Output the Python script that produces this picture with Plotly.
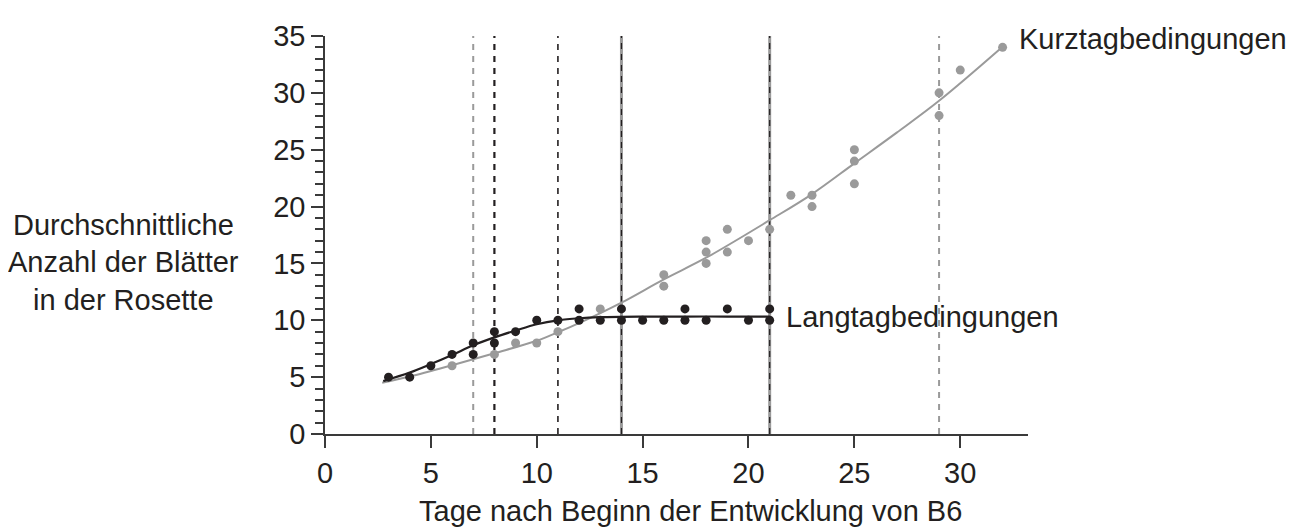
import plotly.graph_objects as go

# --- data ---
# Kurztagbedingungen (short-day conditions), grey
kurz_days = [6, 8, 9, 10, 11, 13, 16, 16, 18, 18, 18, 19, 19, 20, 21, 22, 23, 23, 25, 25, 25, 29, 29, 30, 32]
kurz_leaves = [6, 7, 8, 8, 9, 11, 14, 13, 17, 16, 15, 18, 16, 17, 18, 21, 21, 20, 25, 24, 22, 30, 28, 32, 34]

# Langtagbedingungen (long-day conditions), black
lang_days = [3, 4, 5, 6, 7, 7, 8, 8, 9, 10, 11, 12, 12, 13, 14, 14, 15, 16, 17, 17, 18, 19, 20, 21, 21]
lang_leaves = [5, 5, 6, 7, 8, 7, 9, 8, 9, 10, 10, 11, 10, 10, 11, 10, 10, 10, 11, 10, 10, 11, 10, 11, 10]

# fitted trend curves
kurz_fit_days = [2.7, 4, 6, 8, 10, 11, 12, 14, 16, 18, 21, 23, 25, 27, 29, 32]
kurz_fit_leaves = [4.5, 5.05, 6.05, 7.1, 8.2, 8.95, 9.75, 11.55, 13.6, 15.5, 18.8, 21.1, 23.8, 26.5, 29.3, 34.05]

lang_fit_days = [2.75, 4, 5, 6, 7, 8, 9, 10, 11, 12, 13, 15, 17, 19, 21]
lang_fit_leaves = [4.65, 5.4, 6.15, 6.95, 7.8, 8.5, 9.1, 9.65, 10.0, 10.18, 10.27, 10.32, 10.33, 10.33, 10.33]

# vertical reference lines (days)
grey_dashed_days = [7, 29]
black_dashed_days = [8, 11]
combined_days = [14, 21]

x_ticks = [0, 5, 10, 15, 20, 25, 30]
y_ticks = [0, 5, 10, 15, 20, 25, 30, 35]

label_kurz = "Kurztagbedingungen"
label_lang = "Langtagbedingungen"
x_title = "Tage nach Beginn der Entwicklung von B6"
y_title_lines = ["Durchschnittliche", "Anzahl der Blätter", "in der Rosette"]

GREY = "#9a9a9a"
BLACK = "#231f20"
AXIS = "#3a3a3a"
FONT = "Liberation Sans, Arial, sans-serif"
FS = 29

Y_TOP = 35
# page has an 8px body margin; plot area spans screen x 325..1028, y 28..434
PLOT_L, PLOT_T, PLOT_W, PLOT_H = 325, 28, 703, 406


def px_to_paper_x(sx):
    return (sx - PLOT_L) / PLOT_W


def px_to_paper_y(sy):
    return 1 - (sy - PLOT_T) / PLOT_H


fig = go.Figure()

# vertical lines
for d in grey_dashed_days:
    fig.add_trace(go.Scatter(x=[d, d], y=[0, Y_TOP], mode="lines",
                             line=dict(color=GREY, width=2, dash="6px,6px"),
                             hoverinfo="skip"))
for i, d in enumerate(black_dashed_days):
    fig.add_trace(go.Scatter(x=[d, d], y=[0, Y_TOP], mode="lines",
                             line=dict(color=BLACK, width=2.2 if i == 0 else 1.6, dash="6px,6px"),
                             hoverinfo="skip"))
for d in combined_days:
    fig.add_trace(go.Scatter(x=[d, d], y=[0, Y_TOP], mode="lines",
                             line=dict(color=GREY, width=3),
                             hoverinfo="skip"))
    fig.add_trace(go.Scatter(x=[d, d], y=[0, Y_TOP], mode="lines",
                             line=dict(color=BLACK, width=1.2, dash="6px,5px"),
                             hoverinfo="skip"))

# trend curves
fig.add_trace(go.Scatter(x=kurz_fit_days, y=kurz_fit_leaves, mode="lines",
                         line=dict(color=GREY, width=2, shape="spline", smoothing=1),
                         hoverinfo="skip"))
fig.add_trace(go.Scatter(x=lang_fit_days, y=lang_fit_leaves, mode="lines",
                         line=dict(color=BLACK, width=2.2, shape="spline", smoothing=1),
                         hoverinfo="skip"))

# points
fig.add_trace(go.Scatter(x=kurz_days, y=kurz_leaves, mode="markers",
                         marker=dict(color=GREY, size=9, line=dict(width=0)),
                         name=label_kurz))
fig.add_trace(go.Scatter(x=lang_days, y=lang_leaves, mode="markers",
                         marker=dict(color=BLACK, size=9, line=dict(width=0)),
                         name=label_lang))

annotations = [
    dict(x=kurz_days[-1], y=kurz_leaves[-1], xref="x", yref="y", text=label_kurz,
         showarrow=False, xanchor="left", yanchor="middle", xshift=14, yshift=8,
         font=dict(family=FONT, size=FS, color=BLACK)),
    dict(x=lang_fit_days[-1], y=lang_fit_leaves[-1], xref="x", yref="y", text=label_lang,
         showarrow=False, xanchor="left", yanchor="middle", xshift=14, yshift=0,
         font=dict(family=FONT, size=FS, color=BLACK)),
    dict(x=px_to_paper_x(690), y=px_to_paper_y(513), xref="paper", yref="paper", text=x_title,
         showarrow=False, xanchor="center", yanchor="middle",
         font=dict(family=FONT, size=FS, color=BLACK)),
]
for i, line in enumerate(y_title_lines):
    sy = 221 + 38 * i
    annotations.append(dict(x=px_to_paper_x(123), y=px_to_paper_y(sy), xref="paper", yref="paper",
                            text=line, showarrow=False, xanchor="center", yanchor="middle",
                            font=dict(family=FONT, size=FS, color=BLACK)))

fig.update_layout(
    width=1295, height=522,
    margin=dict(l=317, r=275, t=20, b=96),
    paper_bgcolor="white", plot_bgcolor="white",
    showlegend=False,
    font=dict(family=FONT, size=FS, color=BLACK),
    annotations=annotations,
    xaxis=dict(range=[0, 33.2], tickvals=x_ticks, ticks="outside", ticklen=12,
               tickwidth=1.5, tickcolor=AXIS, showline=True, linecolor=AXIS, linewidth=1.5,
               showgrid=False, zeroline=False, tickfont=dict(family=FONT, size=FS, color=BLACK)),
    yaxis=dict(range=[0, Y_TOP], tickvals=y_ticks, ticks="outside", ticklen=12,
               tickwidth=1.5, tickcolor=AXIS, showline=True, linecolor=AXIS, linewidth=1.5,
               showgrid=False, zeroline=False, tickfont=dict(family=FONT, size=FS, color=BLACK),
               minor=dict(dtick=1, tick0=0, ticks="outside", ticklen=8, tickwidth=1.5,
                          tickcolor=AXIS, showgrid=False)),
)

fig.write_html("out.html")
